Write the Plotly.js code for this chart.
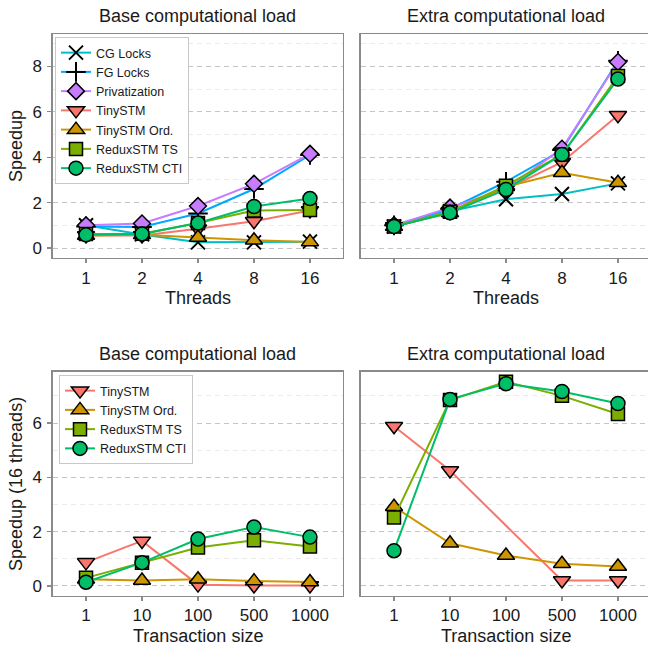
<!DOCTYPE html>
<html>
<head>
<meta charset="utf-8">
<script src="https://cdn.plot.ly/plotly-3.0.1.min.js"></script>
<style>
html, body { margin: 0; padding: 0; overflow: hidden; background: #ffffff; }
#chart { width: 660px; height: 646px; }
</style>
</head>
<body>
<div id="chart"></div>
<script>
// ---------- DATA ----------
const threads = ['1', '2', '4', '8', '16'];
const txSizes = ['1', '10', '100', '500', '1000'];

// Speedup vs threads, base computational load
const cgBase   = [1.00, 0.60, 0.25, 0.25, 0.28];
const fgBase   = [0.95, 0.93, 1.52, 2.60, 4.10];
const privBase = [1.00, 1.08, 1.85, 2.83, 4.15];
const tinyBase = [0.55, 0.55, 0.85, 1.18, 1.65];
const ordBase  = [0.55, 0.58, 0.46, 0.34, 0.27];
const tsBase   = [0.62, 0.63, 1.10, 1.65, 1.68];
const ctiBase  = [0.58, 0.62, 1.10, 1.83, 2.18];

// Speedup vs threads, extra computational load
const cgExtra   = [0.95, 1.62, 2.15, 2.38, 2.85];
const fgExtra   = [1.00, 1.72, 2.92, 4.32, 8.25];
const privExtra = [1.00, 1.78, 2.60, 4.38, 8.20];
const tinyExtra = [0.95, 1.58, 2.60, 3.78, 5.85];
const ordExtra  = [0.95, 1.55, 2.70, 3.32, 2.88];
const tsExtra   = [0.95, 1.60, 2.75, 4.12, 7.58];
const ctiExtra  = [0.95, 1.55, 2.58, 4.12, 7.45];

// Speedup (16 threads) vs transaction size, base load
const tinyTxBase = [0.87, 1.66, 0.05, 0.02, 0.02];
const ordTxBase  = [0.25, 0.20, 0.25, 0.18, 0.15];
const tsTxBase   = [0.30, 0.86, 1.42, 1.68, 1.45];
const ctiTxBase  = [0.14, 0.86, 1.73, 2.17, 1.80];

// Speedup (16 threads) vs transaction size, extra load
const tinyTxExtra = [5.88, 4.25, null, 0.20, 0.20];
const ordTxExtra  = [2.92, 1.57, 1.12, 0.82, 0.72];
const tsTxExtra   = [2.52, 6.85, 7.52, 7.00, 6.33];
const ctiTxExtra  = [1.30, 6.87, 7.45, 7.16, 6.72];

const seriesNames = ['CG Locks', 'FG Locks', 'Privatization', 'TinySTM', 'TinySTM Ord.', 'ReduxSTM TS', 'ReduxSTM CTI'];

// ---------- STYLES ----------
const styles = {
  'CG Locks':      { color: '#00BFC4', symbol: 'x-thin-open',     size: 14, fill: '#000000' },
  'FG Locks':      { color: '#00A9FF', symbol: 'cross-thin-open', size: 14, fill: '#000000' },
  'Privatization': { color: '#C77CFF', symbol: 'diamond',         size: 13, fill: '#C77CFF' },
  'TinySTM':       { color: '#F8766D', symbol: 'triangle-down',   size: 15, fill: '#F8766D' },
  'TinySTM Ord.':  { color: '#CD9600', symbol: 'triangle-up',     size: 15, fill: '#CD9600' },
  'ReduxSTM TS':   { color: '#7CAE00', symbol: 'square',          size: 13, fill: '#7CAE00' },
  'ReduxSTM CTI':  { color: '#00BE67', symbol: 'circle',          size: 14, fill: '#00BE67' }
};

function mk(name, x, y, xa, ya, legend, show) {
  const s = styles[name];
  return {
    type: 'scatter', mode: 'lines+markers', name: name,
    x: x, y: y, xaxis: xa, yaxis: ya,
    connectgaps: true,
    legend: legend, showlegend: show,
    line: { color: s.color, width: 2 },
    marker: { symbol: s.symbol, size: s.size, color: s.fill,
              line: { color: '#000000', width: s.symbol.indexOf('thin') >= 0 ? 2 : 1.5 } },
    hoverinfo: 'x+y+name'
  };
}

const topBase  = [cgBase, fgBase, privBase, tinyBase, ordBase, tsBase, ctiBase];
const topExtra = [cgExtra, fgExtra, privExtra, tinyExtra, ordExtra, tsExtra, ctiExtra];
const botNames = ['TinySTM', 'TinySTM Ord.', 'ReduxSTM TS', 'ReduxSTM CTI'];
const botBase  = [tinyTxBase, ordTxBase, tsTxBase, ctiTxBase];
const botExtra = [tinyTxExtra, ordTxExtra, tsTxExtra, ctiTxExtra];

const traces = [];
seriesNames.forEach((n, i) => traces.push(mk(n, threads, topBase[i], 'x', 'y', 'legend', true)));
seriesNames.forEach((n, i) => traces.push(mk(n, threads, topExtra[i], 'x2', 'y2', 'legend', false)));
botNames.forEach((n, i) => traces.push(mk(n, txSizes, botBase[i], 'x3', 'y3', 'legend2', true)));
botNames.forEach((n, i) => traces.push(mk(n, txSizes, botExtra[i], 'x4', 'y4', 'legend2', false)));

// ---------- LAYOUT ----------
const W = 660, H = 646;
const px = v => v / W;
const py = v => 1 - v / H;

const axisLine = { showline: true, linecolor: '#8a8a8a', linewidth: 1.3, mirror: true, zeroline: false, fixedrange: true };
const tickFont = { family: 'Liberation Sans, Arial, sans-serif', size: 17, color: '#1a1a1a' };

function xaxis(domain, anchor) {
  return Object.assign({}, axisLine, {
    domain: domain, anchor: anchor, type: 'category',
    range: [-0.595, 4.59],
    showgrid: false,
    ticks: 'outside', ticklen: 4, tickwidth: 1.2, tickcolor: '#8a8a8a',
    tickfont: tickFont, ticklabelstandoff: 0
  });
}
function yaxis(domain, anchor, range, labels) {
  return Object.assign({}, axisLine, {
    domain: domain, anchor: anchor, range: range,
    tick0: 0, dtick: 2,
    showgrid: true, gridcolor: '#c4c4c4', gridwidth: 1, griddash: '5px,4px',
    minor: { tick0: 0, dtick: 1, showgrid: true, gridcolor: '#ebebeb', gridwidth: 1, griddash: '5px,4px', ticks: '' },
    ticks: labels ? 'outside' : '', ticklen: 4, tickwidth: 1.2, tickcolor: '#8a8a8a',
    showticklabels: labels, tickfont: tickFont, ticklabelstandoff: 2
  });
}

const xL = [px(52.7), px(343)], xR = [px(360.7), px(651)];
const yT = [py(258), py(34.3)], yB = [py(595.5), py(371.7)];
const rT = [-0.44, 9.42], rB = [-0.35, 7.89];

const titleFont = { family: 'Liberation Sans, Arial, sans-serif', size: 18, color: '#1a1a1a' };
function ann(text, x, y, angle) {
  return { text: text, x: x, y: y, xref: 'paper', yref: 'paper', showarrow: false,
           xanchor: 'center', yanchor: 'middle', textangle: angle || 0, font: titleFont };
}

const legendFont = { family: 'Liberation Sans, Arial, sans-serif', size: 12.5, color: '#1a1a1a' };

const layout = {
  width: W, height: H,
  margin: { l: 0, r: 0, t: 0, b: 0 },
  paper_bgcolor: '#ffffff', plot_bgcolor: '#ffffff',
  font: { family: 'Liberation Sans, Arial, sans-serif', color: '#1a1a1a' },
  xaxis:  xaxis(xL, 'y'),
  yaxis:  yaxis(yT, 'x', rT, true),
  xaxis2: xaxis(xR, 'y2'),
  yaxis2: yaxis(yT, 'x2', rT, false),
  xaxis3: xaxis(xL, 'y3'),
  yaxis3: yaxis(yB, 'x3', rB, true),
  xaxis4: xaxis(xR, 'y4'),
  yaxis4: yaxis(yB, 'x4', rB, false),
  legend: {
    x: px(55), y: py(37), xanchor: 'left', yanchor: 'top',
    bgcolor: '#ffffff', bordercolor: '#c8c8c8', borderwidth: 1,
    font: legendFont, tracegroupgap: 0, itemwidth: 30
  },
  legend2: {
    x: px(59), y: py(375), xanchor: 'left', yanchor: 'top',
    bgcolor: '#ffffff', bordercolor: '#c8c8c8', borderwidth: 1,
    font: legendFont, tracegroupgap: 0, itemwidth: 30
  },
  annotations: [
    ann('Base computational load', px(197.8), py(16.5)),
    ann('Extra computational load', px(505.8), py(16.5)),
    ann('Base computational load', px(197.8), py(354)),
    ann('Extra computational load', px(505.8), py(354)),
    ann('Threads', px(197.8), py(298)),
    ann('Threads', px(505.8), py(298)),
    ann('Transaction size', px(197.8), py(636)),
    ann('Transaction size', px(505.8), py(636)),
    ann('Speedup', px(16), py(146), -90),
    ann('Speedup (16 threads)', px(16), py(484), -90)
  ]
};

Plotly.newPlot('chart', traces, layout, { displayModeBar: false, staticPlot: true });
</script>
</body>
</html>
